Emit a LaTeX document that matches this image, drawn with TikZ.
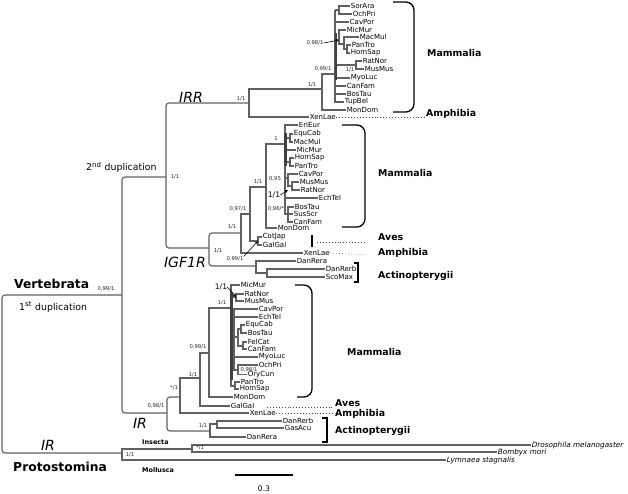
\documentclass[tikz,border=0pt]{standalone}
\usepackage{fontspec}
\setmainfont{DejaVu Sans}
\usetikzlibrary{arrows.meta,calc}

\begin{document}
\begin{tikzpicture}[x=0.03cm,y=-0.03cm,
    branch/.style={draw=black!62, line width=1pt},
    deep/.style={branch, rounded corners=2.5pt},
    bar/.style={draw=black!75, line width=1.8pt},
    brace/.style={draw=black, line width=1.1pt, rounded corners=7pt},
    tick/.style={draw=black, line width=0.8pt},
    dotline/.style={draw=black!70, dotted, line width=0.5pt},
    taxon/.style={anchor=west, inner sep=0.5pt, font=\fontsize{6}{6}\selectfont},
    species/.style={anchor=west, inner sep=0.5pt, font=\itshape\fontsize{6.2}{6.2}\selectfont},
    support/.style={inner sep=0pt, text=black!85, font=\fontsize{4.5}{4.5}\selectfont},
    bigsupport/.style={inner sep=0pt, font=\fontsize{6.5}{6.5}\selectfont},
    group/.style={anchor=west, inner sep=0pt, font=\bfseries\fontsize{8}{8}\selectfont},
    clade/.style={anchor=west, inner sep=0pt, font=\bfseries\fontsize{10.5}{10.5}\selectfont},
    phylum/.style={anchor=west, inner sep=0pt, font=\bfseries\fontsize{5.5}{5.5}\selectfont},
    gene/.style={inner sep=0pt, font=\itshape\fontsize{12}{12}\selectfont},
    event/.style={anchor=west, inner sep=0pt, font=\fontsize{8}{8}\selectfont},
    pointer/.style={-{Stealth[length=3pt,width=2.5pt]}, black, line width=0.5pt}
  ]
  \useasboundingbox (0,0) rectangle (628,493);

  % deep nodes
  \coordinate (rootc) at (2,374);
  \coordinate (vert) at (122,295);
  \coordinate (prot) at (122,453);
  \coordinate (dup2) at (166,177);
  \coordinate (irr) at (249,103);
  \coordinate (igf) at (209,248);
  \coordinate (ir) at (167,413);

  % IRR taxa
  \node[taxon] (rSorAra) at (350,6) {SorAra};
  \node[taxon] (rOchPri) at (352,14) {OchPri};
  \node[taxon] (rCavPor) at (349,22) {CavPor};
  \node[taxon] (rMicMur) at (346,30) {MicMur};
  \node[taxon] (rMacMul) at (359,37) {MacMul};
  \node[taxon] (rPanTro) at (351,45) {PanTro};
  \node[taxon] (rHomSap) at (350,53) {HomSap};
  \node[taxon] (rRatNor) at (362,61) {RatNor};
  \node[taxon] (rMusMus) at (364,69) {MusMus};
  \node[taxon] (rMyoLuc) at (350,78) {MyoLuc};
  \node[taxon] (rCanFam) at (346,86) {CanFam};
  \node[taxon] (rBosTau) at (346,94) {BosTau};
  \node[taxon] (rTupBel) at (344,102) {TupBel};
  \node[taxon] (rMonDom) at (346,110) {MonDom};
  \node[taxon] (rXenLae) at (309,117) {XenLae};

  % IRR clade
  \coordinate (irrM) at (322,89);
  \coordinate (irrC) at (335,74);
  \coordinate (rSO) at (335,10);
  \coordinate (rSOn) at (339,10);
  \coordinate (rPr) at (339,40);
  \coordinate (rPr2) at (344,44);
  \coordinate (rPH) at (347,49);
  \coordinate (rRM) at (356,65);
  \draw[branch] (irrM) -| (irr) |- (rXenLae.west);
  \draw[branch] (irrC) -| (irrM) |- (rMonDom.west);
  \draw[branch] (rSO) |- (rTupBel.west);
  \draw[branch] (rSO) -- (rSOn);
  \draw[branch] (rSorAra.west) -| (rSOn) |- (rOchPri.west);
  \draw[branch] (rCavPor.west -| rSO) -- (rCavPor.west);
  \draw[branch] (rPr -| rSO) -- (rPr);
  \draw[branch] (rMicMur.west) -| (rPr) |- (rPr2);
  \draw[branch] (rMacMul.west) -| (rPr2) |- (rPH);
  \draw[branch] (rPanTro.west) -| (rPH) |- (rHomSap.west);
  \draw[branch] (rRM -| rSO) -- (rRM);
  \draw[branch] (rRatNor.west) -| (rRM) |- (rMusMus.west);
  \draw[branch] (rMyoLuc.west -| rSO) -- (rMyoLuc.west);
  \draw[branch] (rCanFam.west -| rSO) -- (rCanFam.west);
  \draw[branch] (rBosTau.west -| rSO) -- (rBosTau.west);
  \draw[bar] (336,33) -- (336,80);

  % IRR labels
  \node[gene] (lIRR) at (191,97) {IRR};
  \node[support] at (241,99) {1/1};
  \node[support] at (312,85) {1/1};
  \node[support] at (323,69) {0,99/1};
  \node[support] (sR098) at (315,43) {0,98/1};
  \draw[pointer] (sR098.east) -- (rPr);
  \node[support] at (350,70) {1/1};
  \draw[brace] (393,2) -- (414,2) -- (414,112) -- (393,112);
  \node[group] (rMamm) at (427,53) {Mammalia};
  \node[group] (rAmph) at (426,114) {Amphibia};
  \draw[dotline] (rXenLae.east) -- (rXenLae.east -| rAmph.west);

  % IGF1R taxa
  \node[taxon] (gEriEur) at (298,125) {EriEur};
  \node[taxon] (gEquCab) at (293,134) {EquCab};
  \node[taxon] (gMacMul) at (293,142) {MacMul};
  \node[taxon] (gMicMur) at (296,150) {MicMur};
  \node[taxon] (gHomSap) at (294,158) {HomSap};
  \node[taxon] (gPanTro) at (294,166) {PanTro};
  \node[taxon] (gCavPor) at (298,174) {CavPor};
  \node[taxon] (gMusMus) at (299,182) {MusMus};
  \node[taxon] (gRatNor) at (300,190) {RatNor};
  \node[taxon] (gEchTel) at (318,198) {EchTel};
  \node[taxon] (gBosTau) at (294,207) {BosTau};
  \node[taxon] (gSusScr) at (293,214) {SusScr};
  \node[taxon] (gCanFam) at (293,222) {CanFam};
  \node[taxon] (gMonDom) at (277,228) {MonDom};
  \node[taxon] (gCotJap) at (262,237) {CotJap};
  \node[taxon] (gGalGal) at (262,245) {GalGal};
  \node[taxon] (gXenLae) at (303,253) {XenLae};
  \node[taxon] (gDanRera) at (296,261) {DanRera};
  \node[taxon] (gDanRerb) at (325,269) {DanRerb};
  \node[taxon] (gScoMax) at (325,277) {ScoMax};

  % IGF1R clade
  \coordinate (gA) at (241,233);
  \coordinate (gB) at (250,214);
  \coordinate (gM) at (266,187);
  \coordinate (gAv) at (258,241);
  \coordinate (gE) at (285,144);
  \coordinate (gEM) at (290,138);
  \coordinate (gHP) at (290,162);
  \coordinate (gCMR) at (288,178);
  \coordinate (gMR) at (292,186);
  \coordinate (gBSC) at (288,214);
  \coordinate (gAct) at (256,266);
  \coordinate (gDS) at (267,273);
  \draw[deep] (gA) -| (igf) |- (gAct);
  \draw[branch] (gB) -| (gA) |- (gXenLae.west);
  \draw[branch] (gM) -| (gB) |- (gAv);
  \draw[branch] (gCotJap.west) -| (gAv) |- (gGalGal.west);
  \draw[branch] (gE) -| (gM) |- (gMonDom.west);
  \draw[branch] (gEriEur.west) -| (gE) |- (gBSC);
  \draw[branch] (gEM -| gE) -- (gEM);
  \draw[branch] (gEquCab.west) -| (gEM) |- (gMacMul.west);
  \draw[branch] (gMicMur.west -| gE) -- (gMicMur.west);
  \draw[branch] (gHP -| gE) -- (gHP);
  \draw[branch] (gHomSap.west) -| (gHP) |- (gPanTro.west);
  \draw[branch] (gCMR -| gE) -- (gCMR);
  \draw[branch] (gCavPor.west) -| (gCMR) |- (gMR);
  \draw[branch] (gMusMus.west) -| (gMR) |- (gRatNor.west);
  \draw[branch] (gEchTel.west -| gE) -- (gEchTel.west);
  \draw[branch] (gBosTau.west) -| (gBSC) |- (gCanFam.west);
  \draw[branch] (gSusScr.west -| gBSC) -- (gSusScr.west);
  \draw[bar] (285.5,133) -- (285.5,166);
  \draw[branch] (gDanRera.west) -| (gAct) |- (gDS);
  \draw[branch] (gDanRerb.west) -| (gDS) |- (gScoMax.west);

  % IGF1R labels
  \node[gene] (lIGF) at (185,262) {IGF1R};
  \node[support] at (276,139) {1};
  \node[support] at (275,179) {0,95};
  \node[bigsupport] (sG11) at (274,195) {1/1};
  \draw[pointer] (sG11.east) -- (gCMR |- gRatNor.west);
  \node[support] at (276,209) {0,96/*};
  \node[support] at (258,182) {1/1};
  \node[support] at (238,209) {0,97/1};
  \node[support] at (232,227) {1/1};
  \node[support] at (218,251) {1/1};
  \node[support] (sG099) at (235,259) {0,99/1};
  \draw[pointer] (sG099.north east) -- (gAv);
  \draw[brace] (342,125) -- (365,125) -- (365,227) -- (342,227);
  \node[group] (gMamm) at (378,173) {Mammalia};
  \node[group] (gAves) at (378,237) {Aves};
  \node[group] (gAmph) at (378,253) {Amphibia};
  \node[group] (gActi) at (378,276) {Actinopterygii};
  \draw[tick, line width=1.3pt] (312,235) -- (312,247);
  \draw[dotline] (317,242) -- (365,242);
  \draw[dotline] (gXenLae.east) -- (367,255);
  \draw[tick, line width=1pt] (354,263) -- (358,263) -- (358,282) -- (354,282);

  % IR taxa
  \node[taxon] (iMicMur) at (240,285) {MicMur};
  \node[taxon] (iRatNor) at (244,294) {RatNor};
  \node[taxon] (iMusMus) at (244,301) {MusMus};
  \node[taxon] (iCavPor) at (258,309) {CavPor};
  \node[taxon] (iEchTel) at (258,317) {EchTel};
  \node[taxon] (iEquCab) at (245,325) {EquCab};
  \node[taxon] (iBosTau) at (247,333) {BosTau};
  \node[taxon] (iFelCat) at (247,342) {FelCat};
  \node[taxon] (iCanFam) at (247,349) {CanFam};
  \node[taxon] (iMyoLuc) at (258,357) {MyoLuc};
  \node[taxon] (iOchPri) at (258,365) {OchPri};
  \node[taxon] (iOryCun) at (247,374.5) {OryCun};
  \node[taxon] (iPanTro) at (240,382) {PanTro};
  \node[taxon] (iHomSap) at (239,389) {HomSap};
  \node[taxon] (iMonDom) at (233,397) {MonDom};
  \node[taxon] (iGalGal) at (230,406) {GalGal};
  \node[taxon] (iXenLae) at (249,413) {XenLae};
  \node[taxon] (iDanRerb) at (282,421) {DanRerb};
  \node[taxon] (iGasAcu) at (284,428) {GasAcu};
  \node[taxon] (iDanRera) at (246,437) {DanRera};

  % IR clade
  \coordinate (iA) at (180,397);
  \coordinate (iB) at (200,378);
  \coordinate (iC) at (209,353);
  \coordinate (iM) at (231,308);
  \coordinate (iRM) at (236,297);
  \coordinate (iHP) at (235,386);
  \coordinate (iL) at (234,340);
  \coordinate (iEC) at (238,337);
  \coordinate (iEB) at (241,329);
  \coordinate (iFC) at (243,346);
  \coordinate (iOO) at (238,370);
  \coordinate (iAct) at (210,431);
  \coordinate (iDG) at (217,424);
  \draw[deep] (iA) -| (ir) |- (iAct);
  \draw[branch] (iB) -| (iA) |- (iXenLae.west);
  \draw[branch] (iC) -| (iB) |- (iGalGal.west);
  \draw[branch] (iM) -| (iC) |- (iMonDom.west);
  \draw[branch] (iMicMur.west) -| (iM) |- (iHP);
  \draw[branch] (iRM -| iM) -- (iRM);
  \draw[branch] (iRatNor.west) -| (iRM) |- (iMusMus.west);
  \draw[branch] (iPanTro.west) -| (iHP) |- (iHomSap.west);
  \draw[branch] (iL -| iM) -- (iL);
  \draw[branch] (iCavPor.west) -| (iL) |- (iOO);
  \draw[branch] (iEchTel.west -| iL) -- (iEchTel.west);
  \draw[branch] (iEC -| iL) -- (iEC);
  \draw[branch] (iEB) -| (iEC) |- (iFC);
  \draw[branch] (iEquCab.west) -| (iEB) |- (iBosTau.west);
  \draw[branch] (iFelCat.west) -| (iFC) |- (iCanFam.west);
  \draw[branch] (iMyoLuc.west -| iL) -- (iMyoLuc.west);
  \draw[branch] (iOchPri.west) -| (iOO) |- (iOryCun.west);
  \draw[bar] (231.5,292) -- (231.5,380);
  \draw[branch] (iDG) -| (iAct) |- (iDanRera.west);
  \draw[branch] (iDanRerb.west) -| (iDG) |- (iGasAcu.west);

  % IR labels
  \node[gene] (lIR) at (140,423) {IR};
  \node[support] at (156,406) {0,98/1};
  \node[support] at (174,388) {*/1};
  \node[support] at (193,375) {1/1};
  \node[support] at (198,347) {0,99/1};
  \node[support] at (222,303) {1/1};
  \node[bigsupport] (sI11) at (221,287) {1/1};
  \draw[pointer] (sI11.east) -- (iRM);
  \node[support] at (249,369.5) {0,98/1};
  \node[support] at (203,426) {1/1};
  \draw[brace] (295,285) -- (312,285) -- (312,397) -- (297,397);
  \node[group] (iMamm) at (347,352) {Mammalia};
  \node[group] (iAves) at (335,403) {Aves};
  \node[group] (iAmph) at (335,414) {Amphibia};
  \node[group] (iActi) at (335,431) {Actinopterygii};
  \draw[dotline] (267,407) -- (333,407);
  \draw[dotline] (iXenLae.east) -- (333,413);
  \draw[tick, line width=1pt] (322,418) -- (327,418) -- (327,442) -- (322,442);

  % Protostomes
  \node[species] (pDro) at (531,445) {Drosophila melanogaster};
  \node[species] (pBom) at (497,452) {Bombyx mori};
  \node[species] (pLym) at (446,460) {Lymnaea stagnalis};
  \coordinate (ins) at (192,449);
  \draw[branch] (ins) -| (prot) |- (pLym.west);
  \draw[branch] (pDro.west) -| (ins) |- (pBom.west);

  % backbone
  \draw[deep] (irr) -| (dup2) |- (igf);
  \draw[deep] (dup2) -| (vert) |- (ir);
  \draw[deep] (vert) -| (rootc) |- (prot);

  % Labels
  \node[event] at (86,167) {2\textsuperscript{nd} duplication};
  \node[support] at (175,177) {1/1};
  \node[clade] (lVert) at (14,284) {Vertebrata};
  \node[support] at (106,289) {0,99/1};
  \node[event] at (19,307) {1\textsuperscript{st} duplication};
  \node[gene] (lIRp) at (48,445) {IR};
  \node[clade] (lProt) at (13,467) {Protostomina};
  \node[phylum] (lIns) at (142,442) {Insecta};
  \node[phylum] (lMol) at (142,470) {Mollusca};
  \node[support] at (130,455) {1/1};
  \node[support] at (200,448) {*/1};

  % scale
  \coordinate (scL) at (235,475);
  \coordinate (scR) at (293,475);
  \draw[line width=2.5pt] (scL) -- (scR);
  \node[bigsupport] at (264,489) {0.3};
\end{tikzpicture}
\end{document}
